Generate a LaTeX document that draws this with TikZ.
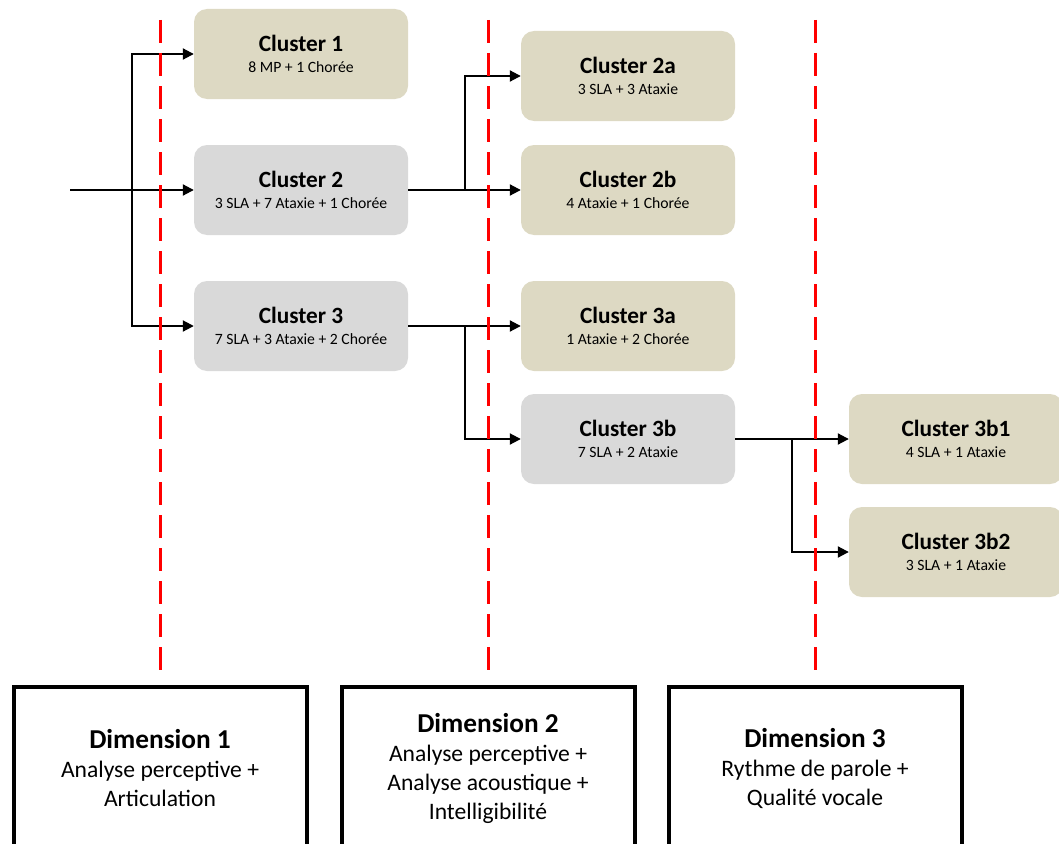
\documentclass[tikz,border=0pt]{standalone}
\usepackage{fontspec}
\setmainfont{Carlito}
\usetikzlibrary{arrows.meta}
\definecolor{tanfill}{HTML}{DDD9C3}
\definecolor{grayfill}{HTML}{D9D9D9}
\newcommand\ctitle[1]{{\fontsize{23.3}{21.5}\selectfont\bfseries #1}}
\newcommand\dtitle[1]{{\fontsize{27.3}{30}\selectfont\bfseries #1}}
\begin{document}
\begin{tikzpicture}[x=1pt,y=-1pt,
  cluster/.style={rectangle, rounded corners=13pt, minimum width=214pt,
    minimum height=90pt, inner sep=0pt, align=center,
    font=\fontsize{15.7}{21.5}\selectfont},
  tanbox/.style={cluster, fill=tanfill},
  graybox/.style={cluster, fill=grayfill},
  dimbox/.style={draw, line width=4pt, minimum width=293pt,
    minimum height=162pt, inner sep=0pt, align=center,
    font=\fontsize{23.6}{29}\selectfont},
  guide/.style={red, line width=3pt, dash pattern=on 23pt off 10pt},
  link/.style={line width=2pt},
  arrow/.style={link, -{Triangle[length=11pt,width=11pt]}}]

\useasboundingbox (0,0) rectangle (1059,843);
\clip (0,0) rectangle (1059,843);

% cluster boxes
\node[tanbox]  (c1)   at (301,54)  {\ctitle{Cluster 1}\\8 MP + 1 Chorée};
\node[graybox] (c2)   at (301,190) {\ctitle{Cluster 2}\\3 SLA + 7 Ataxie + 1 Chorée};
\node[graybox] (c3)   at (301,326) {\ctitle{Cluster 3}\\7 SLA + 3 Ataxie + 2 Chorée};
\node[tanbox]  (c2a)  at (628,76)  {\ctitle{Cluster 2a}\\3 SLA + 3 Ataxie};
\node[tanbox]  (c2b)  at (628,190) {\ctitle{Cluster 2b}\\4 Ataxie + 1 Chorée};
\node[tanbox]  (c3a)  at (628,326) {\ctitle{Cluster 3a}\\1 Ataxie + 2 Chorée};
\node[graybox] (c3b)  at (628,439) {\ctitle{Cluster 3b}\\7 SLA + 2 Ataxie};
\node[tanbox]  (c3b1) at (956,439) {\ctitle{Cluster 3b1}\\4 SLA + 1 Ataxie};
\node[tanbox]  (c3b2) at (956,552) {\ctitle{Cluster 3b2}\\3 SLA + 1 Ataxie};

% branching points
\coordinate (in) at (70,190);
\coordinate (j1) at (132,190);
\coordinate (j2) at (465,190);
\coordinate (j3) at (465,326);
\coordinate (j4) at (792,439);

% connectors
\draw[arrow] (in) -- (c2.west);
\draw[arrow] (j1) |- (c1.west);
\draw[arrow] (j1) |- (c3.west);
\draw[arrow] (c2.east) -- (c2b.west);
\draw[arrow] (j2) |- (c2a.west);
\draw[arrow] (c3.east) -- (c3a.west);
\draw[arrow] (j3) |- (c3b.west);
\draw[arrow] (c3b.east) -- (c3b1.west);
\draw[arrow] (j4) |- (c3b2.west);

% dimension separators
\draw[guide] (160,20) -- (160,680);
\draw[guide] (488,20) -- (488,680);
\draw[guide] (815,20) -- (815,680);

% dimension boxes
\node[dimbox] (d1) at (160,768) {\dtitle{Dimension 1}\\Analyse perceptive +\\Articulation};
\node[dimbox] (d2) at (488,768) {\dtitle{Dimension 2}\\Analyse perceptive +\\Analyse acoustique +\\Intelligibilité};
\node[dimbox] (d3) at (815,768) {\dtitle{Dimension 3}\\Rythme de parole +\\Qualité vocale};
\end{tikzpicture}
\end{document}
